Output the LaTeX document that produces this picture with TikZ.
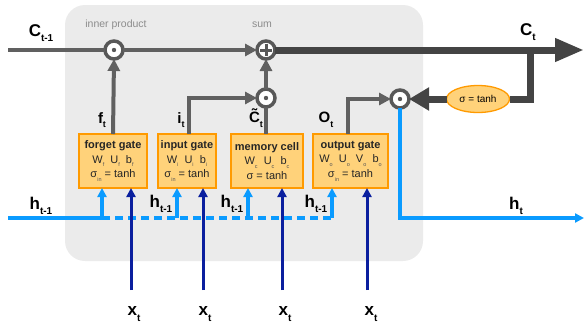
\documentclass[tikz,border=0pt]{standalone}
\usepackage{fontspec}
\setmainfont{Liberation Sans}
\usetikzlibrary{arrows.meta,shapes.geometric}
\definecolor{bggray}{HTML}{EBEBEB}
\definecolor{linegray}{HTML}{606060}
\definecolor{opgray}{HTML}{585858}
\definecolor{darkline}{HTML}{444444}
\definecolor{gatefill}{HTML}{FFD27A}
\definecolor{gateborder}{HTML}{FF9A00}
\definecolor{hblue}{HTML}{0A9BFF}
\definecolor{xnavy}{HTML}{0A1F9E}
\definecolor{notegray}{HTML}{8C8C8C}
\definecolor{subgray}{HTML}{555555}
\newcommand\lsub[1]{\raisebox{-0.32em}{\fontsize{10}{10}\selectfont #1}}
\newcommand\msub[1]{\raisebox{-0.3em}{\fontsize{9}{9}\selectfont #1}}
\newcommand\gsub[1]{\raisebox{-0.35em}{\color{subgray}\fontsize{5.5}{5.5}\selectfont #1}}
\newcommand\Ctil{\makebox[0pt][l]{\hspace{0.19em}\raisebox{0.2em}{\char"02DC}}C}
\begin{document}
\begin{tikzpicture}[x=1pt,y=-1pt,
  every node/.style={inner sep=0pt, outer sep=0pt},
  opnode/.style={circle, draw=opgray, line width=3.5pt, fill=white, minimum size=18pt},
  gatebox/.style={draw=gateborder, fill=gatefill, line width=1.3pt, minimum height=54pt,
    align=center, font=\fontsize{11}{14.5}\selectfont, text=black!85},
  biglbl/.style={font=\bfseries\fontsize{17}{17}\selectfont},
  midlbl/.style={font=\bfseries\fontsize{15}{15}\selectfont},
  notelbl/.style={font=\fontsize{10.5}{10.5}\selectfont, text=notegray},
  gline/.style={draw=linegray, line width=4pt},
  gtip/.style={-{Triangle[length=12pt,width=12pt]}},
  thickline/.style={draw=darkline, line width=7pt, line join=miter},
  hline/.style={draw=hblue, line width=3.2pt, line join=miter},
  htip/.style={-{Triangle[length=9pt,width=9pt]}},
  xline/.style={draw=xnavy, line width=3pt},
  xtip/.style={-{Triangle[length=9pt,width=9pt]}}
]
\useasboundingbox (0,0) rectangle (584,327);
\fill[bggray, rounded corners=20pt] (65,5) rectangle (423,261);

% operator circles
\node[opnode] (prodf) at (114,50) {};
\node[opnode] (sum) at (266,50) {};
\node[opnode] (prodc) at (266,98) {};
\node[opnode] (prodo) at (400,99) {};

% gates
\node[gatebox, minimum width=68pt] (fg) at (113,161)
  {\textbf{forget gate}\\W\gsub{f}\ \ U\gsub{f}\ \ b\gsub{f}\\σ\gsub{in} = tanh};
\node[gatebox, minimum width=58pt] (ig) at (187,161)
  {\textbf{input gate}\\W\gsub{i}\ \ U\gsub{i}\ \ b\gsub{i}\\σ\gsub{in} = tanh};
\node[gatebox, minimum width=72pt] (mc) at (267,161)
  {\textbf{memory cell}\\W\gsub{c}\ \ U\gsub{c}\ \ b\gsub{c}\\σ = tanh};
\node[gatebox, minimum width=75pt] (og) at (350.5,161)
  {\textbf{output gate}\\W\gsub{o}\ \ U\gsub{o}\ \ V\gsub{o}\ \ b\gsub{o}\\σ\gsub{in} = tanh};

\node[ellipse, draw=gateborder, fill=gatefill, line width=1.3pt, minimum width=63pt,
  minimum height=27pt, font=\fontsize{10}{10}\selectfont] (tanh) at (478,99) {σ = tanh};

% coordinates
\coordinate (cin) at (8,50);
\coordinate (cout) at (584,50);
\coordinate (br) at (530,50);
\coordinate (hin) at (8,218);
\coordinate (hj1) at (102,218);
\coordinate (hj2) at (177,218);
\coordinate (hj3) at (248,218);
\coordinate (hj4) at (332,218);
\coordinate (hout) at (584,218);
\coordinate (x1) at (131,290);
\coordinate (x2) at (203,290);
\coordinate (x3) at (282,290);
\coordinate (x4) at (367,290);

% cell state path
\draw[gline] (cin) -- (prodf.west);
\draw[gline, gtip] (prodf.east) -- (sum.west);
\draw[thickline, -{Triangle[length=29pt,width=22pt]}] (sum.east) -- (cout);
\draw[thickline] (br) |- (tanh.east);
\draw[thickline, -{Triangle[length=20pt,width=22pt]}] (tanh.west) -- (prodo.east);

% gate outputs
\draw[gline, gtip] (fg.north) -- (prodf.south);
\draw[gline, gtip, line join=miter] (ig.north -| 189,0) |- (prodc.west);
\draw[gline] (mc.north -| prodc) -- (prodc.south);
\draw[gline, gtip] (prodc.north) -- (sum.south);
\draw[gline, gtip, line join=miter] (og.north -| 348,0) |- (prodo.west);

% hidden state
\draw[hline] (hin) -- (hj1);
\draw[hline, dashed, dash pattern=on 8pt off 5pt] (hj1) -- (hj4);
\draw[hline, htip] (hj1) -- (hj1 |- fg.south);
\draw[hline, htip] (hj2) -- (hj2 |- ig.south);
\draw[hline, htip] (hj3) -- (hj3 |- mc.south);
\draw[hline, htip] (hj4) -- (hj4 |- og.south);
\draw[hline, htip] (prodo.south) |- (hout);

% inputs
\draw[xline, xtip] (x1) -- (x1 |- fg.south);
\draw[xline, xtip] (x2) -- (x2 |- ig.south);
\draw[xline, xtip] (x3) -- (x3 |- mc.south);
\draw[xline, xtip] (x4) -- (x4 |- og.south);

% operator symbols
\fill[opgray] (prodf) circle (2.2pt);
\fill[opgray] (prodc) circle (2.2pt);
\fill[opgray] (prodo) circle (2.2pt);
\draw[opgray, line width=3pt] ([xshift=-6pt]sum.center) -- ([xshift=6pt]sum.center)
  ([yshift=-6pt]sum.center) -- ([yshift=6pt]sum.center);

% labels
\node[notelbl] (lprod) at (116,25) {inner product};
\node[notelbl] (lsum) at (262,25) {sum};
\node[biglbl] (lcin) at (41,33) {C\lsub{t-1}};
\node[biglbl] (lcout) at (528,32) {C\lsub{t}};
\node[biglbl] (lhin) at (41,206) {h\lsub{t-1}};
\node[biglbl] (lhout) at (516,206) {h\lsub{t}};
\node[biglbl] (lh2) at (161,204) {h\lsub{t-1}};
\node[biglbl] (lh3) at (232,204) {h\lsub{t-1}};
\node[biglbl] (lh4) at (316,204) {h\lsub{t-1}};
\node[midlbl] (lf) at (102,120) {f\msub{t}};
\node[midlbl] (li) at (181,120) {i\msub{t}};
\node[midlbl] (lc) at (256,118) {\Ctil\msub{t}};
\node[midlbl] (lo) at (326,120) {O\msub{t}};
\node[biglbl] (lx1) at (134,314) {x\lsub{t}};
\node[biglbl] (lx2) at (205,314) {x\lsub{t}};
\node[biglbl] (lx3) at (285,314) {x\lsub{t}};
\node[biglbl] (lx4) at (371,314) {x\lsub{t}};
\end{tikzpicture}
\end{document}
